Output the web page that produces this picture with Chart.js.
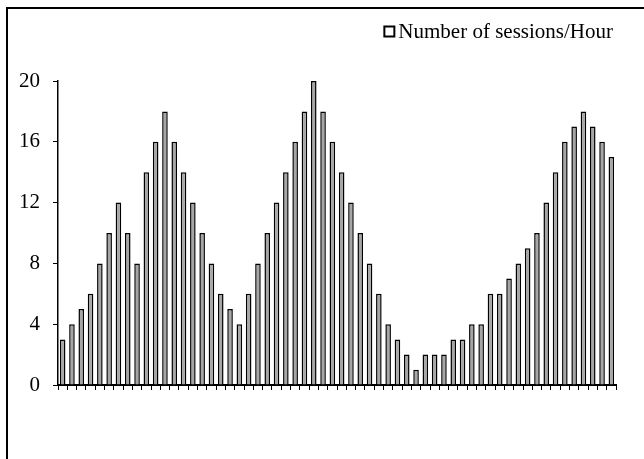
<!DOCTYPE html>
<html>
<head>
<meta charset="utf-8">
<script src="https://cdn.jsdelivr.net/npm/chart.js@4/dist/chart.umd.min.js"></script>
<style>
  html, body { margin: 0; padding: 0; background: #fff; overflow: hidden; }
  #wrap { position: relative; width: 644px; height: 459px; }
  #frame { position: absolute; left: 6px; top: 7px; width: 700px; height: 500px;
           border-left: 2px solid #000; border-top: 2px solid #000; pointer-events: none; }
  canvas { position: absolute; left: 0; top: 0; }
</style>
</head>
<body>
<div id="wrap">
  <canvas id="chart" width="644" height="459"></canvas>
  <div id="frame"></div>
</div>
<script>
// Hourly session counts over 60 hours
const hours = Array.from({ length: 60 }, (_, i) => String(i + 1));
const sessions = [
  3, 4, 5, 6, 8, 10, 12, 10, 8, 14,
  16, 18, 16, 14, 12, 10, 8, 6, 5, 4,
  6, 8, 10, 12, 14, 16, 18, 20, 18, 16,
  14, 12, 10, 8, 6, 4, 3, 2, 1, 2,
  2, 2, 3, 3, 4, 4, 6, 6, 7, 8,
  9, 10, 12, 14, 16, 17, 18, 17, 16, 15
];
const yTicks = [0, 4, 8, 12, 16, 20];
const seriesName = 'Number of sessions/Hour';

const serif = "'Liberation Serif', 'Times New Roman', serif";

// Compact legend: hollow square followed closely by the series name
const compactLegend = {
  id: 'compactLegend',
  afterDraw(chart) {
    const ctx = chart.ctx;
    const label = chart.data.datasets[0].label;
    ctx.save();
    ctx.font = '21px ' + serif;
    ctx.textBaseline = 'middle';
    ctx.textAlign = 'left';
    const textW = ctx.measureText(label).width;
    const textX = 613 - textW;
    const midY = 31.5;
    ctx.fillStyle = '#fff';
    ctx.strokeStyle = '#000';
    ctx.lineWidth = 2;
    ctx.fillRect(textX - 14, midY - 5, 10, 10);
    ctx.strokeRect(textX - 14, midY - 5, 10, 10);
    ctx.fillStyle = '#000';
    ctx.fillText(label, textX, midY + 1);
    ctx.restore();
  }
};

new Chart(document.getElementById('chart'), {
  type: 'bar',
  data: {
    labels: hours,
    datasets: [{
      label: seriesName,
      data: sessions,
      backgroundColor: '#a6a6a6',
      borderColor: '#000',
      borderWidth: 1.5,
      categoryPercentage: 1,
      barPercentage: 0.6
    }]
  },
  plugins: [compactLegend],
  options: {
    responsive: false,
    animation: false,
    events: [],
    layout: { padding: { top: 81, right: 28, bottom: 0, left: 0 } },
    plugins: {
      tooltip: { enabled: false },
      legend: { display: false }
    },
    scales: {
      x: {
        offset: true,
        grid: { display: true, drawOnChartArea: false, drawTicks: true, tickLength: 5, color: '#000', offset: true },
        border: { display: true, color: '#000', width: 2 },
        ticks: { display: true, callback: () => '', padding: 0 },
        afterFit: (scale) => { scale.height = 74; }
      },
      y: {
        min: 0,
        max: 20,
        afterBuildTicks: (scale) => { scale.ticks = yTicks.map(v => ({ value: v })); },
        grid: { display: true, drawOnChartArea: false, drawTicks: true, tickLength: 5, color: '#000' },
        border: { display: true, color: '#000', width: 1.5 },
        ticks: { color: '#000', font: { family: serif, size: 21 }, padding: 13 },
        afterFit: (scale) => { scale.width = 58; }
      }
    }
  }
});
</script>
</body>
</html>
